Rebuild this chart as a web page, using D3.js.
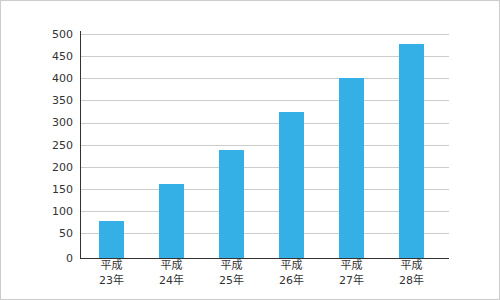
<!DOCTYPE html>
<html>
<head>
  <meta charset="UTF-8">
  <title>平成23年〜28年</title>
  <style>
    body { margin: 0; background: #fff; }
    svg text { font-family: "DejaVu Sans", "Noto Sans CJK JP", sans-serif; font-size: 11px; fill: #333; }
  </style>
</head>
<body>
<svg id="chart" width="500" height="300"></svg>
<script src="https://d3js.org/d3.v7.min.js"></script>
<script>
    // data
    var eras = ["平成", "平成", "平成", "平成", "平成", "平成"];
    var years = ["23年", "24年", "25年", "26年", "27年", "28年"];
    var values = [78, 161, 238, 324, 401, 478];
    var yTicks = [0, 50, 100, 150, 200, 250, 300, 350, 400, 450, 500];

    var svg = d3.select("#chart");

    // outer frame
    svg.append("rect")
        .attr("x", 0.5).attr("y", 0.5)
        .attr("width", 499).attr("height", 299)
        .attr("fill", "none")
        .attr("stroke", "#ccc");

    var x = d3.scaleBand()
        .domain(d3.range(values.length))
        .range([81, 442])
        .paddingInner(0.583)
        .paddingOuter(0.3);

    var y = d3.scaleLinear()
        .domain([0, 500])
        .range([255.5, 34]);

    var axisY = 258;

    // gridlines
    svg.append("g")
        .selectAll("line")
        .data(yTicks.slice(1))
        .enter().append("line")
        .attr("x1", 81).attr("x2", 449)
        .attr("y1", function(d) { return Math.round(y(d)) + 0.5; })
        .attr("y2", function(d) { return Math.round(y(d)) + 0.5; })
        .attr("stroke", "#ccc");

    // y labels
    svg.append("g")
        .selectAll("text")
        .data(yTicks)
        .enter().append("text")
        .attr("x", 73)
        .attr("y", function(d) { return d === 0 ? axisY : y(d); })
        .attr("dy", "0.35em")
        .attr("text-anchor", "end")
        .text(function(d) { return d; });

    // bars
    svg.append("g")
        .selectAll("rect")
        .data(values)
        .enter().append("rect")
        .attr("x", function(d, i) { return Math.round(x(i)); })
        .attr("width", Math.round(x.bandwidth()))
        .attr("y", function(d) { return Math.round(y(d)); })
        .attr("height", function(d) { return axisY - Math.round(y(d)); })
        .attr("fill", "#35b0e6");

    // axes lines
    svg.append("line")
        .attr("x1", 80.5).attr("x2", 80.5)
        .attr("y1", 31).attr("y2", axisY + 1)
        .attr("stroke", "#333");
    svg.append("line")
        .attr("x1", 80).attr("x2", 449)
        .attr("y1", axisY + 0.5).attr("y2", axisY + 0.5)
        .attr("stroke", "#333");

    // x labels
    var xl = svg.append("g")
        .selectAll("text")
        .data(years)
        .enter().append("text")
        .attr("text-anchor", "middle")
        .attr("x", function(d, i) { return x(i) + x.bandwidth() / 2; })
        .attr("y", 269);
    xl.append("tspan")
        .attr("x", function(d, i) { return x(i) + x.bandwidth() / 2; })
        .text(function(d, i) { return eras[i]; });
    xl.append("tspan")
        .attr("x", function(d, i) { return x(i) + x.bandwidth() / 2; })
        .attr("dy", 15)
        .text(function(d) { return d; });
</script>
</body>
</html>
